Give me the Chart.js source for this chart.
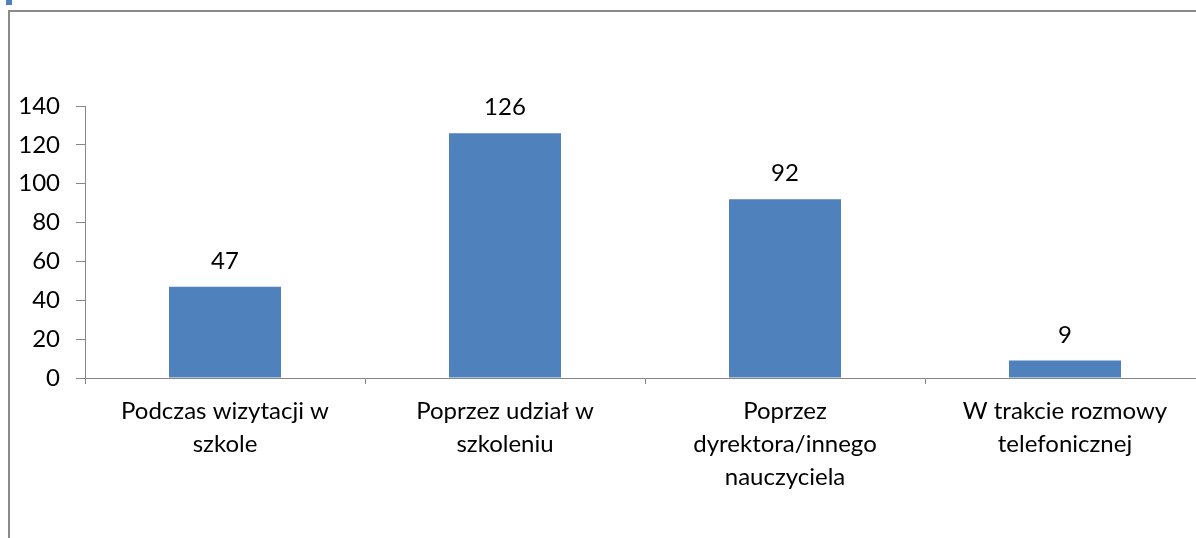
<!DOCTYPE html>
<html>
<head>
<meta charset="utf-8">
<script src="https://cdn.jsdelivr.net/npm/chart.js@4.4.0/dist/chart.umd.min.js"></script>
<style>
  html, body { margin: 0; padding: 0; background: #fff; overflow: hidden; width: 1196px; height: 538px; }
  #wrap { position: absolute; left: 0; top: 0; width: 1215px; height: 538px; }
  #frameL { position: absolute; left: 8px; top: 10px; width: 2px; height: 528px; background: #8a8a8a; }
  #frameT { position: absolute; left: 8px; top: 10px; width: 1188px; height: 2px; background: #8a8a8a; }
  #mark { position: absolute; left: 6px; top: 0px; width: 6px; height: 5px; background: #4f81bd; }
</style>
</head>
<body>
<div id="frameL"></div>
<div id="frameT"></div>
<div id="mark"></div>
<div id="wrap"><canvas id="c" width="1215" height="538"></canvas></div>
<script>
const categories = [
  ["Podczas wizytacji w", "szkole"],
  ["Poprzez udział w", "szkoleniu"],
  ["Poprzez", "dyrektora/innego", "nauczyciela"],
  ["W trakcie rozmowy", "telefonicznej"]
];
const values = [47, 126, 92, 9];
const yTicks = [0, 20, 40, 60, 80, 100, 120, 140];

const FONT = "Lato, 'Open Sans', sans-serif";
const FS = 24;
const axisColor = '#868686';

const valueLabels = {
  id: 'valueLabels',
  afterDatasetsDraw(chart) {
    const ctx = chart.ctx;
    const meta = chart.getDatasetMeta(0);
    ctx.save();
    ctx.font = FS + 'px ' + FONT;
    ctx.fillStyle = '#000';
    ctx.textAlign = 'center';
    ctx.textBaseline = 'alphabetic';
    meta.data.forEach((bar, i) => {
      ctx.fillText(String(values[i]), bar.x, bar.y - 18);
    });
    ctx.restore();
  }
};

new Chart(document.getElementById('c'), {
  type: 'bar',
  data: {
    labels: categories,
    datasets: [{
      data: values,
      backgroundColor: '#4f81bd',
      borderWidth: 0,
      barPercentage: 0.4,
      categoryPercentage: 1.0
    }]
  },
  options: {
    responsive: false,
    animation: false,
    devicePixelRatio: 1,
    layout: { padding: { left: 0, top: 106, right: 10, bottom: 0 } },
    plugins: { legend: { display: false }, tooltip: { enabled: false } },
    scales: {
      x: {
        grid: { display: true, drawOnChartArea: false, offset: true, tickLength: 6, color: axisColor, lineWidth: 1 },
        border: { color: axisColor, width: 1 },
        ticks: { color: '#000', font: { family: FONT, size: FS, lineHeight: 33 / FS }, padding: 11, maxRotation: 0, autoSkip: false },
        afterFit(scale) { scale.height = 160; }
      },
      y: {
        min: 0, max: 140,
        afterBuildTicks(scale) { scale.ticks = yTicks.map(v => ({ value: v })); },
        grid: { display: true, drawOnChartArea: false, tickLength: 9, color: axisColor, lineWidth: 1 },
        border: { color: axisColor, width: 1 },
        ticks: { color: '#000', font: { family: FONT, size: FS }, padding: 16 },
        afterFit(scale) { scale.width = 85; }
      }
    }
  },
  plugins: [valueLabels]
});
</script>
</body>
</html>
